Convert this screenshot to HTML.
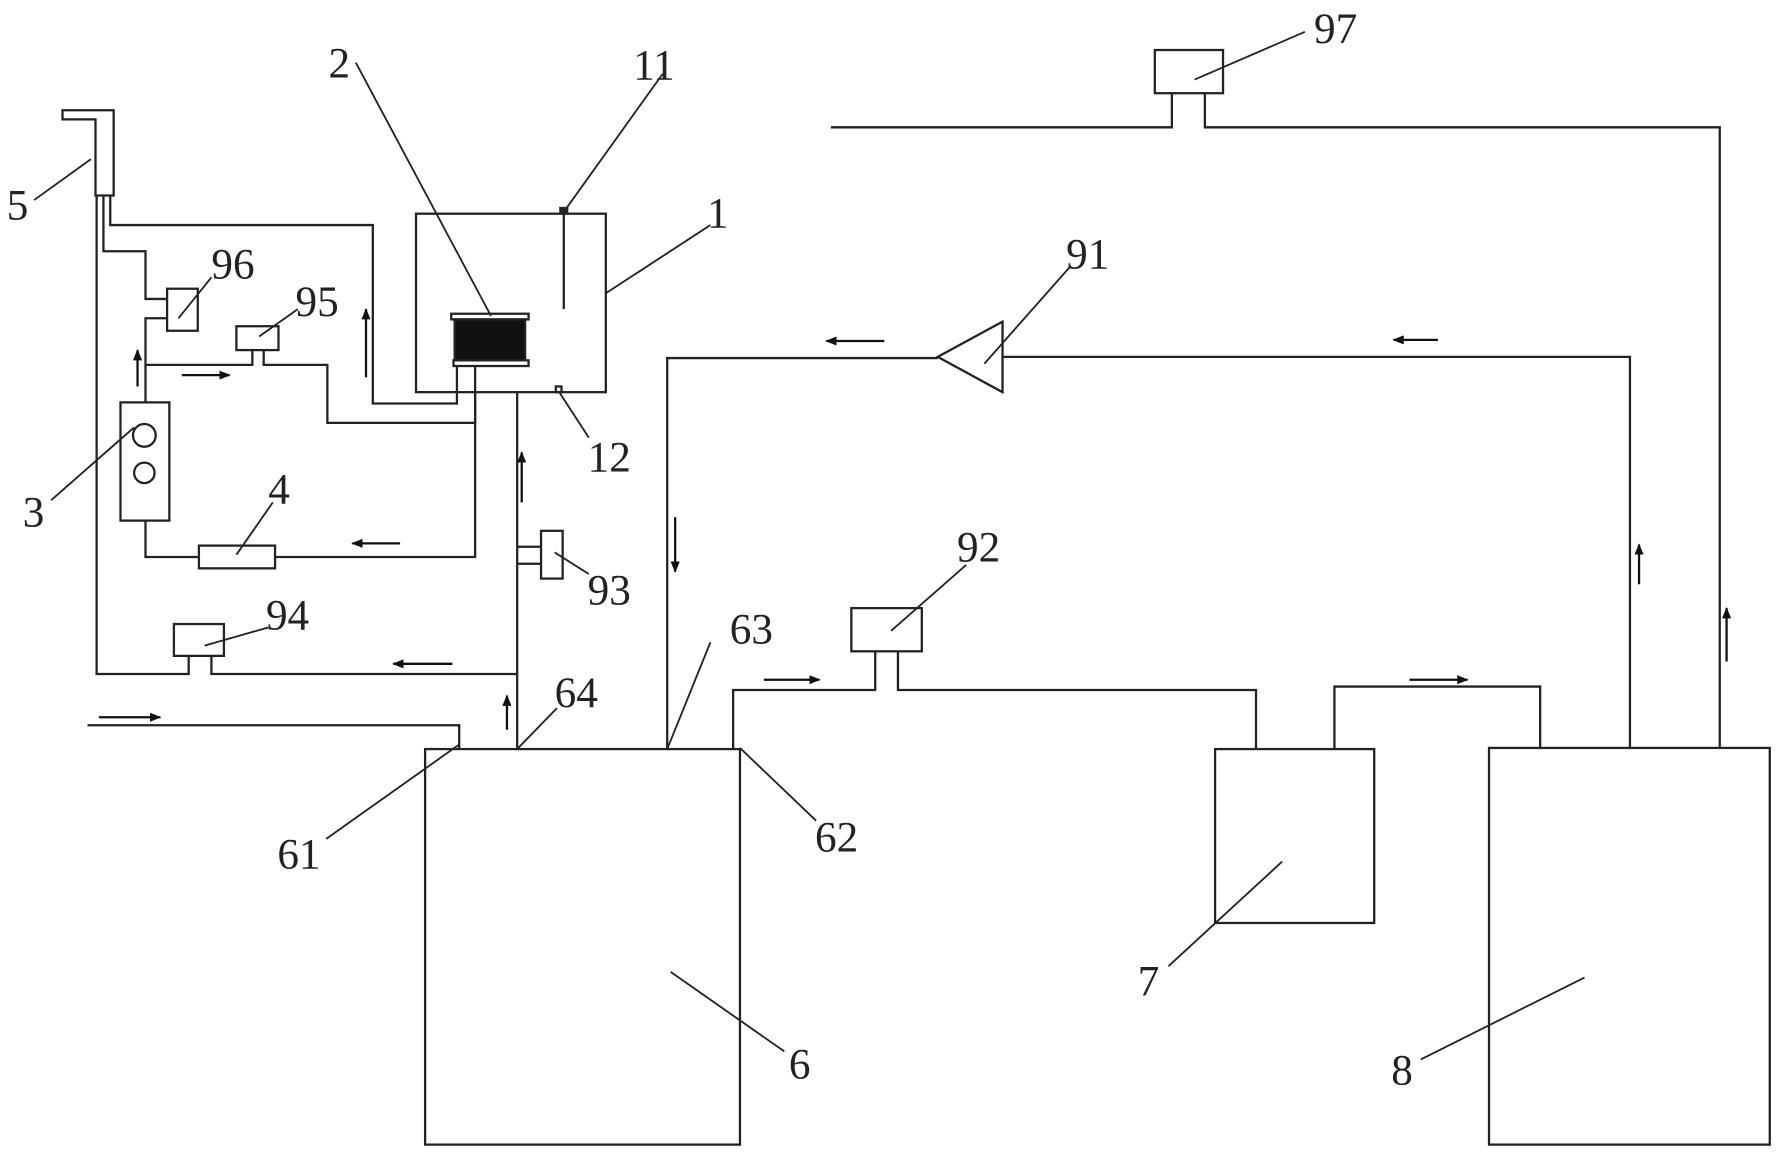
<!DOCTYPE html>
<html><head><meta charset="utf-8"><style>
html,body{margin:0;padding:0;background:#fff;}
svg{display:block;}
text{font-family:"Liberation Serif","Noto Serif CJK SC",serif;font-size:38px;fill:#222;}
</style></head><body>
<svg width="1780" height="1156" viewBox="0 0 1566 1017" preserveAspectRatio="none" xmlns="http://www.w3.org/2000/svg">
<defs><marker id="a" markerWidth="10" markerHeight="8" refX="9" refY="4" orient="auto" markerUnits="userSpaceOnUse"><path d="M0,0 L10,4 L0,8 Z" fill="#111"/></marker></defs>
<g fill="none" stroke="#222" stroke-width="2">
<rect x="366" y="188" width="167" height="157"/>
<line x1="496" y1="186" x2="496" y2="272"/>
<rect x="493" y="183" width="6" height="3" fill="#222"/>
<rect x="489" y="340" width="5" height="5"/>
<rect x="397" y="276" width="68" height="5"/>
<rect x="400" y="281" width="62" height="36" fill="#111"/>
<rect x="399" y="317" width="66" height="5"/>
<path d="M55,97 H100 V172 H84 V105 H55 Z"/>
<path d="M85,172 V593 H166 V577"/>
<path d="M91,172 V221 H128 V263 H147"/>
<path d="M97,172 V198 H328 V355 H402 V322"/>
<rect x="147" y="254" width="27" height="37"/>
<path d="M147,280 H128 V354"/>
<path d="M128,321 H222 V308"/>
<rect x="208" y="287" width="37" height="21"/>
<path d="M232,308 V321 H288 V372 H418 V322"/>
<rect x="106" y="354" width="43" height="104"/>
<circle cx="127" cy="383" r="10"/>
<circle cx="127" cy="416" r="9"/>
<path d="M128,458 V490 H175"/>
<rect x="175" y="480" width="67" height="20"/>
<path d="M242,490 H418 V345"/>
<path d="M455,345 V659"/>
<rect x="476" y="467" width="19" height="42"/>
<path d="M455,481 H476 M455,496 H476"/>
<path d="M455,593 H186 V577"/>
<rect x="153" y="549" width="44" height="28"/>
<path d="M77,638 H404 V659"/>
<rect x="374" y="659" width="277" height="348"/>
<path d="M587,659 V315 H825"/>
<path d="M825,314 L882,283 V345 Z"/>
<path d="M882,314 H1434 V659"/>
<path d="M645,659 V607 H770 V573"/>
<rect x="749" y="535" width="62" height="38"/>
<path d="M790,573 V607 H1105 V659"/>
<rect x="1069" y="659" width="140" height="153"/>
<path d="M1174,659 V604 H1355 V659"/>
<rect x="1310" y="658" width="247" height="349"/>
<path d="M1513,658 V112 H1060 V82"/>
<rect x="1016" y="44" width="60" height="38"/>
<path d="M1031,82 V112 H731"/>
</g>
<g stroke="#111" stroke-width="2" marker-end="url(#a)">
<line x1="121" y1="340" x2="121" y2="308"/>
<line x1="160" y1="330" x2="202" y2="330"/>
<line x1="322" y1="332" x2="322" y2="272"/>
<line x1="352" y1="478" x2="310" y2="478"/>
<line x1="459" y1="442" x2="459" y2="398"/>
<line x1="446" y1="642" x2="446" y2="612"/>
<line x1="398" y1="584" x2="346" y2="584"/>
<line x1="87" y1="631" x2="141" y2="631"/>
<line x1="594" y1="455" x2="594" y2="503"/>
<line x1="778" y1="300" x2="727" y2="300"/>
<line x1="1265" y1="299" x2="1226" y2="299"/>
<line x1="1442" y1="514" x2="1442" y2="479"/>
<line x1="1519" y1="582" x2="1519" y2="535"/>
<line x1="672" y1="598" x2="721" y2="598"/>
<line x1="1240" y1="598" x2="1291" y2="598"/>
</g>
<g stroke="#222" stroke-width="1.6">
<line x1="583" y1="65" x2="497" y2="185"/>
<line x1="518" y1="385" x2="492" y2="345"/>
<line x1="313" y1="55" x2="432" y2="278"/>
<line x1="625" y1="198" x2="533" y2="258"/>
<line x1="30" y1="176" x2="80" y2="140"/>
<line x1="45" y1="440" x2="118" y2="376"/>
<line x1="240" y1="442" x2="208" y2="488"/>
<line x1="186" y1="244" x2="157" y2="280"/>
<line x1="262" y1="272" x2="228" y2="296"/>
<line x1="518" y1="505" x2="488" y2="486"/>
<line x1="236" y1="552" x2="180" y2="568"/>
<line x1="287" y1="738" x2="404" y2="655"/>
<line x1="490" y1="623" x2="455" y2="659"/>
<line x1="625" y1="565" x2="587" y2="659"/>
<line x1="718" y1="722" x2="651" y2="658"/>
<line x1="690" y1="925" x2="590" y2="855"/>
<line x1="942" y1="234" x2="866" y2="320"/>
<line x1="850" y1="497" x2="784" y2="555"/>
<line x1="1028" y1="850" x2="1128" y2="758"/>
<line x1="1250" y1="932" x2="1394" y2="860"/>
<line x1="1148" y1="28" x2="1051" y2="70"/>
</g>
<text x="557" y="70">11</text>
<text x="289" y="68">2</text>
<text x="622" y="200">1</text>
<text x="517" y="415">12</text>
<text x="6" y="193">5</text>
<text x="20" y="463">3</text>
<text x="236" y="443">4</text>
<text x="186" y="245">96</text>
<text x="260" y="278">95</text>
<text x="517" y="532">93</text>
<text x="234" y="554">94</text>
<text x="244" y="764">61</text>
<text x="488" y="622">64</text>
<text x="642" y="566">63</text>
<text x="717" y="749">62</text>
<text x="694" y="949">6</text>
<text x="938" y="236">91</text>
<text x="842" y="494">92</text>
<text x="1001" y="876">7</text>
<text x="1224" y="954">8</text>
<text x="1156" y="38">97</text>
</svg>
</body></html>
